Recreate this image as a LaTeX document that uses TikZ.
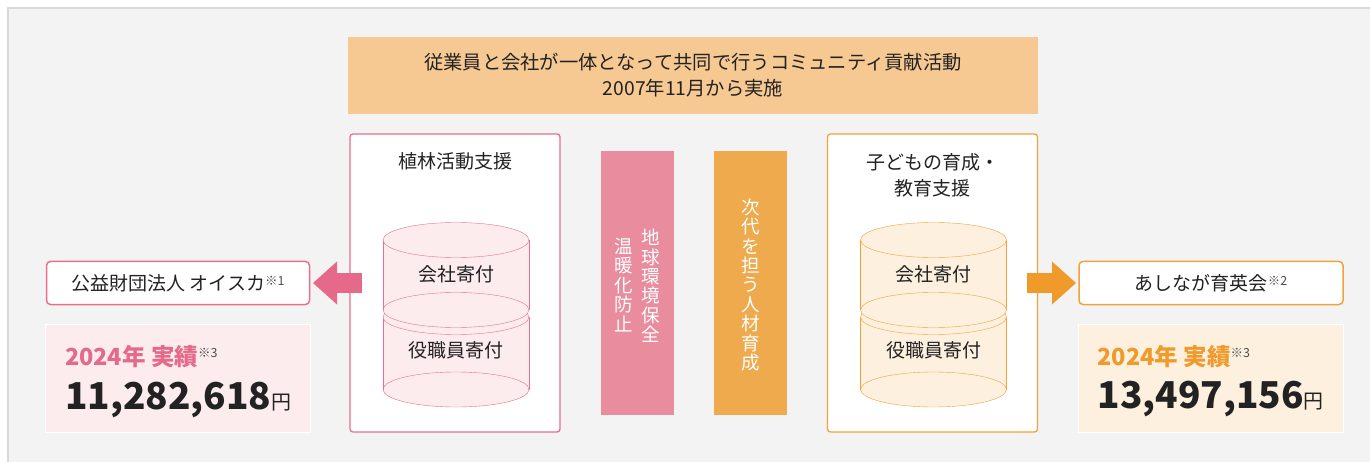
\documentclass[tikz,border=0pt]{standalone}
\usepackage{fontspec}
\setmainfont{Noto Sans CJK JP}
\usetikzlibrary{arrows.meta, positioning}

\definecolor{panelgray}{HTML}{F3F3F3}
\definecolor{panelline}{HTML}{D8D8D8}
\definecolor{bannerfill}{HTML}{F7C992}
\definecolor{pinkline}{HTML}{E6708E}
\definecolor{pinkfill}{HTML}{FCECEE}
\definecolor{pinkbar}{HTML}{E98C9E}
\definecolor{pinkarrow}{HTML}{E56A8A}
\definecolor{orangeline}{HTML}{F0A23C}
\definecolor{orangefill}{HTML}{FDF0DF}
\definecolor{orangebar}{HTML}{EFAA4D}
\definecolor{orangearrow}{HTML}{EF9A2A}
\definecolor{textdark}{HTML}{222222}

\newcommand{\fnmark}[2]{\raisebox{#1}{\mdseries\color{textdark!80}\fontsize{12.5}{12.5}\selectfont ※#2}}

\begin{document}
\begin{tikzpicture}[
      x=1pt, y=-1pt,
      every node/.style={
        outer sep=0pt,
        text=textdark,
        font=\fontsize{19}{19}\selectfont
      },
      groupbox/.style={
        rectangle,
        rounded corners=3pt,
        draw=#1,
        line width=1.3pt,
        fill=white,
        minimum width=210pt,
        minimum height=298pt
      },
      themebar/.style={
        rectangle,
        fill=#1,
        minimum width=73pt,
        minimum height=264pt
      },
      namebox/.style={
        rectangle,
        rounded corners=4pt,
        draw=#1,
        line width=1.5pt,
        fill=white,
        minimum width=264pt,
        minimum height=43pt
      },
      resultbox/.style={
        rectangle,
        draw=white,
        line width=1pt,
        fill=#1,
        minimum width=265pt,
        minimum height=108pt
      },
      vtext/.style={
        align=center,
        text=white,
        inner sep=0pt,
        font=\fontsize{18.5}{19.4}\selectfont
      },
      yeartext/.style={
        anchor=base west,
        inner sep=0pt,
        text=#1,
        font=\bfseries\fontsize{23.5}{23.5}\selectfont
      },
      amounttext/.style={
        anchor=base west,
        inner sep=0pt,
        font=\bfseries\fontsize{37}{37}\selectfont
      },
      blockarrow/.style={
        draw=#1,
        line width=19pt,
        -{Triangle[length=24pt, width=43pt, line width=0pt]}
      },
      node distance=40.5pt
    ]

    % Panel
    \useasboundingbox (0,0) rectangle (1370,462);
    \fill[white] (0,0) rectangle (1370,462);
    \fill[panelgray] (8,8) rectangle (1370,462);
    \draw[panelline, line width=1.5pt] (8,462) -- (8,8) -- (1370,8);

    % Banner
    \node (banner) [fill=bannerfill, minimum width=690pt, minimum height=77pt, align=center, font=\fontsize{19.3}{26}\selectfont] at (693,75.5) {従業員と会社が一体となって共同で行うコミュニティ貢献活動\\2007年11月から実施};

    % Activity Nodes
    \node (plantingBox) [groupbox=pinkline] at (455,283) {};
    \node (warmingBar) [themebar=pinkbar, right=of plantingBox] {};
    \node (futureBar) [themebar=orangebar, right=of warmingBar] {};
    \node (childBox) [groupbox=orangeline, right=of futureBar] {};
    \node (plantingTitle) at ([yshift=-27pt]plantingBox.north) {植林活動支援};
    \node (childTitle) [align=center, font=\fontsize{19}{26}\selectfont] at ([yshift=-41pt]childBox.north) {子どもの育成・\\教育支援};

    % Cylinders
    \foreach \cx/\cfill/\cline in {456/pinkfill/pinkline, 933.5/orangefill/orangeline} {
      % lower drum
      \fill[\cfill] (\cx-73,317) rectangle (\cx+73,389.5);
      \filldraw[fill=\cfill, draw=\cline] (\cx,389.5) ellipse [x radius=73, y radius=17.5];
      \draw[\cline] (\cx-73,317) -- (\cx-73,389.5) (\cx+73,317) -- (\cx+73,389.5);
      \filldraw[fill=\cfill, draw=\cline] (\cx,317) ellipse [x radius=73, y radius=17.5];
      % upper drum
      \fill[\cfill] (\cx-73,240) rectangle (\cx+73,310);
      \filldraw[fill=\cfill, draw=\cline] (\cx,310) ellipse [x radius=73, y radius=17.5];
      \draw[\cline] (\cx-73,240) -- (\cx-73,310) (\cx+73,240) -- (\cx+73,310);
      \filldraw[fill=\cfill, draw=\cline] (\cx,240) ellipse [x radius=73, y radius=17.5];
    }
    \node (plantingCompany) at (456,274) {会社寄付};
    \node (plantingStaff) at (456,350) {役職員寄付};
    \node (childCompany) at (933.5,274) {会社寄付};
    \node (childStaff) at (933.5,350) {役職員寄付};

    % Theme texts
    \node (warmingTextA) [vtext] at ([xshift=13.5pt, yshift=-3pt]warmingBar.center) {地\\球\\環\\境\\保\\全};
    \node (warmingTextB) [vtext] at ([xshift=-13.5pt, yshift=-2pt]warmingBar.center) {温\\暖\\化\\防\\止};
    \node (futureText) [vtext] at ([yshift=-2pt]futureBar.center) {次\\代\\を\\担\\う\\人\\材\\育\\成};

    % Recipient Nodes
    \node (oiscaLabel) [namebox=pinkline, minimum width=263pt, left=of plantingBox] {公益財団法人 オイスカ\fnmark{5pt}{1}};
    \node (ashinagaLabel) [namebox=orangeline, right=41.5pt of childBox] {あしなが育英会\fnmark{5pt}{2}};
    \node (oiscaResult) [resultbox=pinkfill, below=20pt of oiscaLabel] {};
    \node (ashinagaResult) [resultbox=orangefill, below=20pt of ashinagaLabel] {};

    % Results
    \node (oiscaYear) [yeartext=pinkarrow] at ([xshift=19.5pt, yshift=-40.5pt]oiscaResult.north west) {2024年 実績\fnmark{8pt}{3}};
    \node (oiscaAmount) [amounttext] at ([xshift=19.5pt, yshift=-85pt]oiscaResult.north west) {11,282,618{\mdseries\fontsize{20}{20}\selectfont 円}};
    \node (ashinagaYear) [yeartext=orangearrow] at ([xshift=19pt, yshift=-40.5pt]ashinagaResult.north west) {2024年 実績\fnmark{8pt}{3}};
    \node (ashinagaAmount) [amounttext] at ([xshift=19pt, yshift=-84pt]ashinagaResult.north west) {13,497,156{\mdseries\fontsize{20}{20}\selectfont 円}};

    % Arrows
    \draw [blockarrow=pinkarrow, shorten <=-12pt, shorten >=3.5pt] (plantingBox.west) -- (oiscaLabel.east);
    \draw [blockarrow=orangearrow, shorten <=-10.5pt, shorten >=3pt] (childBox.east) -- (ashinagaLabel.west);

    \end{tikzpicture}
\end{document}
